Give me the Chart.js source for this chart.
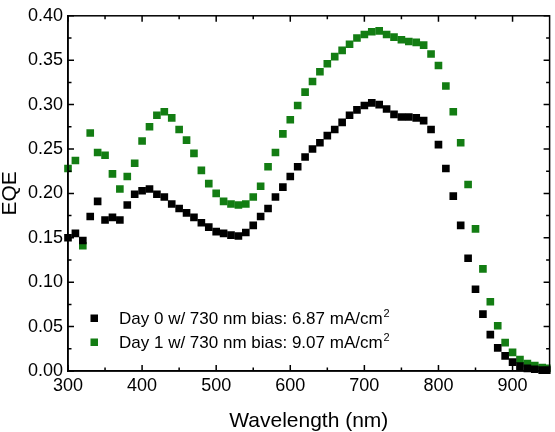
<!DOCTYPE html>
<html>
<head>
<meta charset="utf-8">
<script src="https://cdn.jsdelivr.net/npm/chart.js@4/dist/chart.umd.min.js"></script>
<style>
  html, body { margin: 0; padding: 0; background: #fff; }
  #wrap { width: 555px; height: 432px; }
</style>
</head>
<body>
<div id="wrap"><canvas id="chart"></canvas></div>
<script>
// wavelength in nm, one point every 10 nm
const wavelengths = [
  300, 310, 320, 330, 340, 350, 360, 370, 380, 390,
  400, 410, 420, 430, 440, 450, 460, 470, 480, 490,
  500, 510, 520, 530, 540, 550, 560, 570, 580, 590,
  600, 610, 620, 630, 640, 650, 660, 670, 680, 690,
  700, 710, 720, 730, 740, 750, 760, 770, 780, 790,
  800, 810, 820, 830, 840, 850, 860, 870, 880, 890,
  900, 910, 920, 930, 940, 950
];

const day0 = [
  0.150, 0.155, 0.147, 0.174, 0.191, 0.170, 0.173, 0.170, 0.187, 0.199,
  0.203, 0.205, 0.199, 0.196, 0.188, 0.183, 0.178, 0.173, 0.167, 0.162,
  0.157, 0.155, 0.153, 0.152, 0.156, 0.164, 0.174, 0.183, 0.196, 0.207,
  0.219, 0.230, 0.241, 0.250, 0.257, 0.265, 0.272, 0.280, 0.288, 0.294,
  0.299, 0.302, 0.300, 0.295, 0.289, 0.286, 0.286, 0.285, 0.282, 0.272,
  0.255, 0.228, 0.197, 0.164, 0.127, 0.092, 0.064, 0.041, 0.026, 0.017,
  0.010, 0.0055, 0.003, 0.002, 0.001, 0.001
];

const day1 = [
  0.228, 0.237, 0.141, 0.268, 0.246, 0.243, 0.222, 0.205, 0.219, 0.234,
  0.259, 0.275, 0.288, 0.292, 0.285, 0.272, 0.260, 0.245, 0.226, 0.211,
  0.200, 0.191, 0.188, 0.187, 0.188, 0.196, 0.208, 0.230, 0.246, 0.267,
  0.283, 0.299, 0.314, 0.326, 0.337, 0.346, 0.354, 0.361, 0.368, 0.375,
  0.379, 0.382, 0.383, 0.379, 0.376, 0.373, 0.371, 0.370, 0.367, 0.357,
  0.344, 0.321, 0.292, 0.257, 0.210, 0.160, 0.115, 0.078, 0.051, 0.032,
  0.021, 0.013, 0.0085, 0.006, 0.004, 0.003
];

const seriesLabels = [
  "Day 0 w/ 730 nm bias: 6.87 mA/cm",
  "Day 1 w/ 730 nm bias: 9.07 mA/cm"
];
const seriesColors = ["#000000", "#137d13"];

const xTicks = [300, 400, 500, 600, 700, 800, 900];
const xMinor = [350, 450, 550, 650, 750, 850];

const FONT = "'Liberation Sans', Arial, sans-serif";

function toPoints(ys) {
  return wavelengths.map((x, i) => ({ x: x, y: ys[i] }));
}

// frame on all four sides plus inward ticks, and the legend box
const framePlugin = {
  id: "frame",
  afterDatasetsDraw(chart) {
    const ctx = chart.ctx;
    const a = chart.chartArea;
    const xs = chart.scales.x;
    const ys = chart.scales.y;
    ctx.save();
    ctx.strokeStyle = "#000";
    ctx.lineWidth = 1.5;
    ctx.strokeRect(a.left, a.top, a.right - a.left, a.bottom - a.top);

    ctx.beginPath();
    xTicks.concat(xMinor).forEach((v) => {
      const len = xTicks.includes(v) ? 6 : 3.5;
      const px = xs.getPixelForValue(v);
      ctx.moveTo(px, a.bottom);
      ctx.lineTo(px, a.bottom - len);
      ctx.moveTo(px, a.top);
      ctx.lineTo(px, a.top + len);
    });
    for (let i = 0; i <= 16; i++) {
      const v = i * 0.025;
      const len = i % 2 === 0 ? 6 : 3.5;
      const py = ys.getPixelForValue(v);
      ctx.moveTo(a.left, py);
      ctx.lineTo(a.left + len, py);
      ctx.moveTo(a.right, py);
      ctx.lineTo(a.right - len, py);
    }
    ctx.stroke();

    // legend
    ctx.textBaseline = "alphabetic";
    ctx.textAlign = "left";
    seriesLabels.forEach((label, i) => {
      const cy = 318 + i * 24;
      ctx.fillStyle = seriesColors[i];
      ctx.fillRect(90.5, cy - 3.5, 7.5, 7.5);
      ctx.fillStyle = "#000";
      ctx.font = "17px " + FONT;
      const base = cy + 6;
      ctx.fillText(label, 119, base);
      const w = ctx.measureText(label).width;
      ctx.font = "11px " + FONT;
      ctx.fillText("2", 119 + w + 1, base - 7);
    });
    ctx.restore();
  }
};

new Chart(document.getElementById("chart"), {
  type: "scatter",
  data: {
    datasets: [day0, day1].map((ys, i) => ({
      label: seriesLabels[i] + "²",
      data: toPoints(ys),
      pointStyle: "rect",
      pointRadius: 5.4,
      pointBackgroundColor: seriesColors[i],
      pointBorderColor: seriesColors[i],
      pointBorderWidth: 0,
      showLine: false,
      clip: { left: 6, top: 6, right: 1, bottom: 6 }
    }))
  },
  plugins: [framePlugin],
  options: {
    responsive: true,
    maintainAspectRatio: false,
    animation: false,
    layout: { padding: { top: 8, right: 1, left: 0, bottom: 0 } },
    plugins: {
      legend: { display: false },
      tooltip: { enabled: false }
    },
    scales: {
      x: {
        type: "linear",
        min: 300,
        max: 950,
        afterBuildTicks(scale) {
          scale.ticks = xTicks.map((v) => ({ value: v }));
        },
        afterFit(scale) {
          scale.height = 61;
        },
        grid: { display: false, drawTicks: false },
        border: { display: true, color: "#000", width: 1.5 },
        ticks: {
          color: "#000",
          padding: 4,
          maxRotation: 0,
          autoSkip: false,
          font: { family: FONT, size: 18 }
        },
        title: {
          display: true,
          text: "Wavelength (nm)",
          color: "#000",
          padding: 0,
          font: { family: FONT, size: 21, lineHeight: 1 }
        }
      },
      y: {
        min: 0,
        max: 0.4,
        afterFit(scale) {
          scale.width = 68;
        },
        grid: { display: false, drawTicks: false },
        border: { display: true, color: "#000", width: 1.5 },
        ticks: {
          stepSize: 0.05,
          color: "#000",
          padding: 5,
          font: { family: FONT, size: 18 },
          callback: (v) => v.toFixed(2)
        },
        title: {
          display: true,
          text: "EQE",
          color: "#000",
          padding: 0,
          font: { family: FONT, size: 21, lineHeight: 1 }
        }
      }
    }
  }
});
</script>
</body>
</html>
